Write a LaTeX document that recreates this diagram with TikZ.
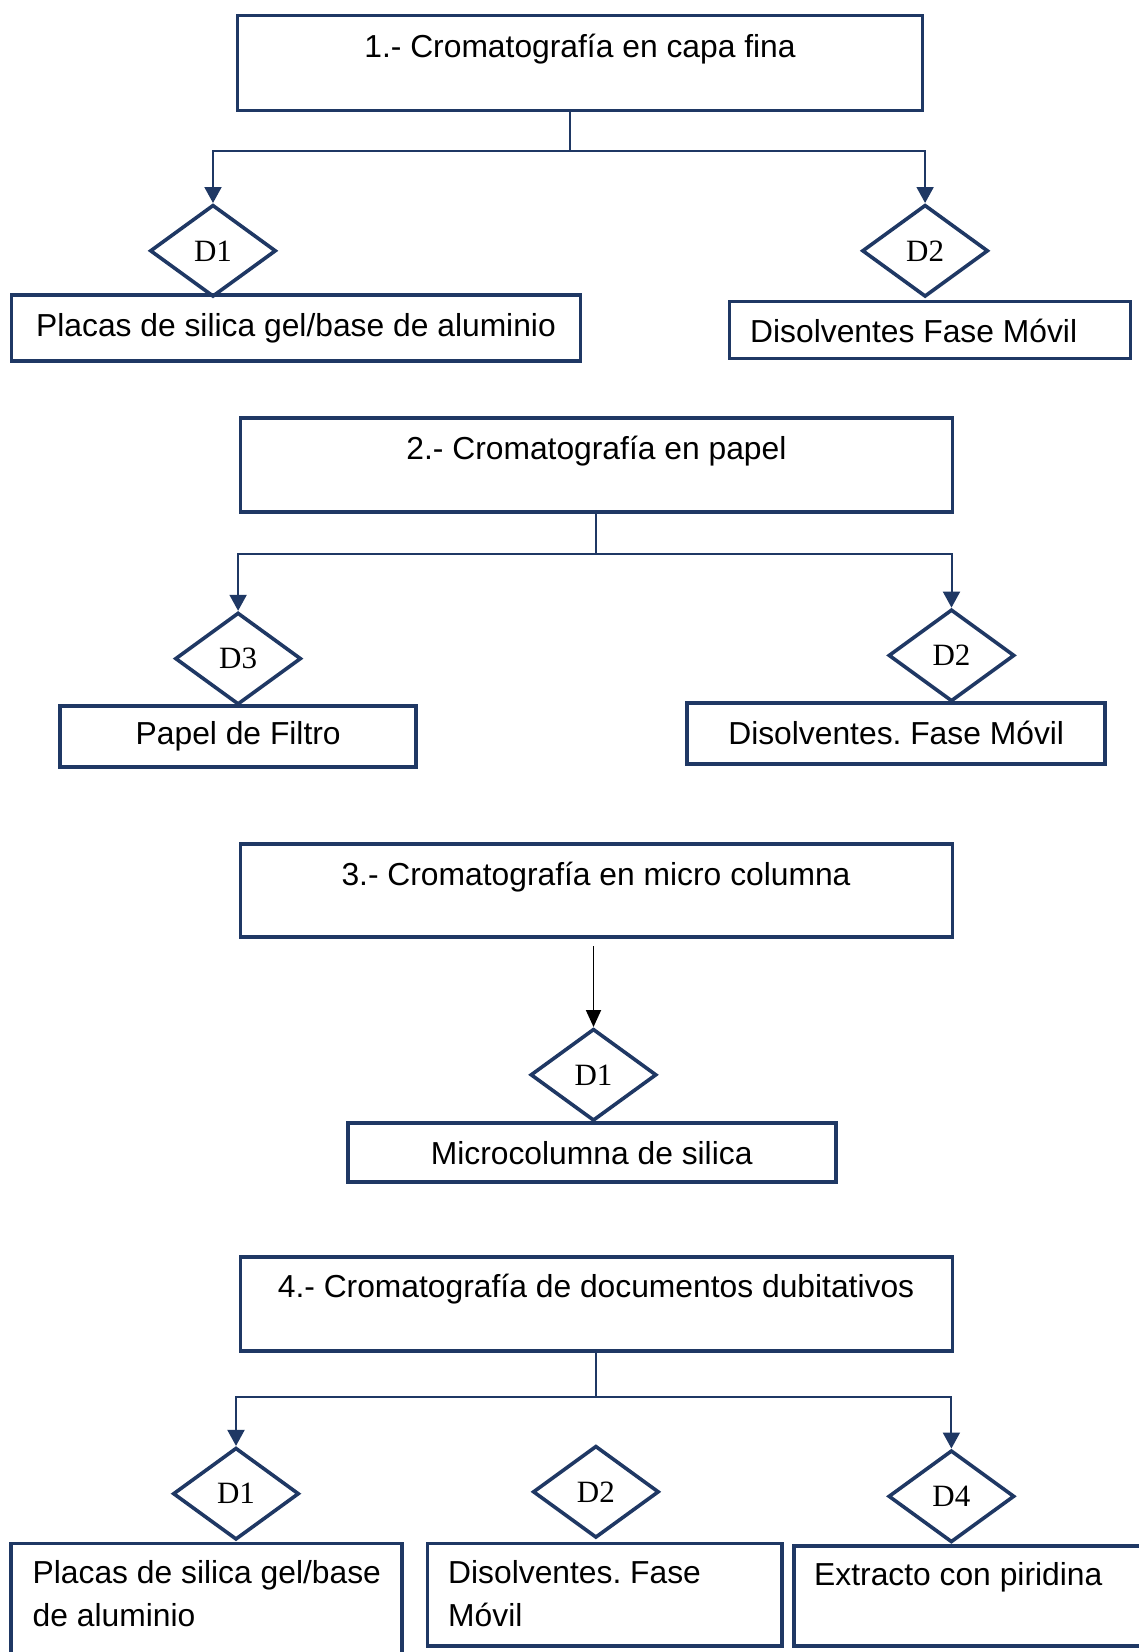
\documentclass[tikz,border=0pt]{standalone}
\usepackage{fontspec}
\setmainfont{Liberation Sans}
\newfontfamily\tnr{Liberation Serif}
\usetikzlibrary{shapes.geometric,arrows.meta}
\definecolor{navy}{HTML}{1F3864}
\frenchspacing
\begin{document}
\begin{tikzpicture}[x=1pt,y=-1pt,
  every node/.style={font=\fontsize{31.8}{42.5}\selectfont, inner sep=0pt},
  box/.style={draw=navy, line width=3.6pt, rectangle, inner sep=0pt},
  dia/.style={draw=navy, line width=3.6pt, diamond, inner sep=0pt,
    minimum width=126pt, minimum height=92pt, font=\tnr\fontsize{31}{36}\selectfont},
  conn/.style={draw=navy, line width=2pt},
  arr/.style={conn, -{Triangle[width=17pt,length=16pt]}},
  blackarr/.style={draw=black, line width=1.8pt, -{Triangle[width=15pt,length=17pt]}}]
\fill[white] (0,0) rectangle (1138,1652);
\useasboundingbox (0,0) rectangle (1138,1652);

% ---------- Section 1 ----------
\node[box, minimum width=685pt, minimum height=95pt] (b1) at (580,62.8) {};
\node[anchor=base] (b1t) at (580,57.3) {1.- Cromatografía en capa fina};
\node[dia] (d1a) at (213,250.8) {D1};
\node[dia] (d2a) at (925.1,250.8) {D2};
\node[box, minimum width=569pt, minimum height=65.6pt] (p1) at (296,328) {Placas de silica gel/base de aluminio};
\node[box, minimum width=401pt, minimum height=57pt] (m1) at (930,330) {};
\node[anchor=base west] (m1t) at (750,342.3) {Disolventes Fase Móvil};
\coordinate (c1) at (570,150.7);
\draw[conn] ([xshift=-10pt]b1.south) -- (c1);
\draw[arr] (c1) -| (d1a.north);
\draw[arr] (c1) -| (d2a.north);

% ---------- Section 2 ----------
\node[box, minimum width=712pt, minimum height=94pt] (b2) at (596.4,465.2) {};
\node[anchor=base] (b2t) at (596.4,459.3) {2.- Cromatografía en papel};
\node[dia] (d3) at (238.1,658.6) {D3};
\node[dia] (d2b) at (951.5,655.4) {D2};
\node[box, minimum width=356pt, minimum height=61pt] (pf) at (238.2,736.5) {Papel de Filtro};
\node[box, minimum width=418pt, minimum height=61pt] (dm2) at (896.2,733.4) {Disolventes. Fase Móvil};
\coordinate (c2) at (596.4,554.2);
\draw[conn] (b2.south) -- (c2);
\draw[arr] (c2) -| (d3.north);
\draw[arr] (c2) -| (d2b.north);

% ---------- Section 3 ----------
\node[box, minimum width=712pt, minimum height=93pt] (b3) at (596.4,890.4) {};
\node[anchor=base] (b3t) at (596,885) {3.- Cromatografía en micro columna};
\node[dia] (d1c) at (593.5,1074.8) {D1};
\node[box, minimum width=488pt, minimum height=59pt] (ms) at (591.7,1152.7) {Microcolumna de silica};
\coordinate (a3) at (593.5,946.2);
\draw[blackarr] (a3) -- (d1c.north);

% ---------- Section 4 ----------
\node[box, minimum width=712pt, minimum height=94pt] (b4) at (596.4,1304) {};
\node[anchor=base] (b4t) at (596,1297) {4.- Cromatografía de documentos dubitativos};
\node[dia] (d1d) at (236,1493.7) {D1};
\node[dia] (d2d) at (595.9,1491.8) {D2};
\node[dia] (d4) at (951.4,1496.3) {D4};
\node[box, minimum width=391pt, minimum height=156.6pt] (ps2) at (206.5,1621.8) {};
\node[anchor=base west] (ps2a) at (32.5,1583.3) {Placas de silica gel/base};
\node[anchor=base west] (ps2b) at (32.5,1626) {de aluminio};
\node[box, minimum width=354.5pt, minimum height=102.5pt] (dm4) at (604.8,1594.8) {};
\node[anchor=base west] (dm4a) at (448,1583.3) {Disolventes. Fase};
\node[anchor=base west] (dm4b) at (448,1626) {Móvil};
\node[box, minimum width=406pt, minimum height=100pt] (ep) at (997,1596) {};
\node[anchor=base west] (ept) at (814,1585) {Extracto con piridina};
\coordinate (c4) at (596.4,1396.9);
\draw[conn] (b4.south) -- (c4);
\draw[arr] (c4) -| (d1d.north);
\draw[arr] (c4) -| (d4.north);
\end{tikzpicture}
\end{document}
